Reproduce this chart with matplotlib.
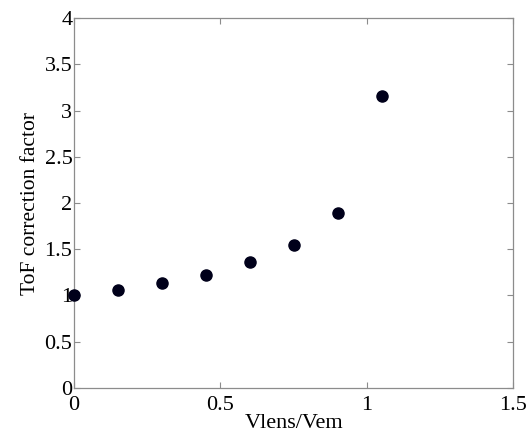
import matplotlib
matplotlib.use("Agg")
import matplotlib.pyplot as plt

# V_lens / V_em ratio and the measured ToF correction factor
ratio = [0.0, 0.15, 0.30, 0.45, 0.60, 0.75, 0.90, 1.05]
factor = [1.00, 1.06, 1.135, 1.225, 1.36, 1.55, 1.89, 3.16]

x_ticks = [0, 0.5, 1, 1.5]
y_ticks = [0, 0.5, 1, 1.5, 2, 2.5, 3, 3.5, 4]

plt.rcParams["font.family"] = ["Liberation Serif", "DejaVu Serif"]

fig = plt.figure(figsize=(5.31, 4.34), dpi=100)
ax = fig.add_axes([0.139, 0.106, 0.828, 0.8525])

ax.plot(ratio, factor, "o", color="#00001a", markersize=8, clip_on=False, zorder=3)

ax.set_xlim(0, 1.5)
ax.set_ylim(0, 4)
ax.set_xticks(x_ticks)
ax.set_xticklabels(["0", "0.5", "1", "1.5"])
ax.set_yticks(y_ticks)
ax.set_yticklabels(["0", "0.5", "1", "1.5", "2", "2.5", "3", "3.5", "4"])

for s in ax.spines.values():
    s.set_color("#8c8c8c")
    s.set_linewidth(0.9)
ax.tick_params(direction="in", length=4, width=0.8, color="#8c8c8c",
               labelsize=16, top=True, right=True)
ax.tick_params(axis="y", pad=1)
ax.tick_params(axis="x", pad=6)

ax.set_xlabel("Vlens/Vem", fontsize=16, labelpad=-1)
ax.set_ylabel("ToF correction factor", fontsize=15.5, labelpad=3)

fig.savefig("out.png", dpi=100, facecolor="white")
